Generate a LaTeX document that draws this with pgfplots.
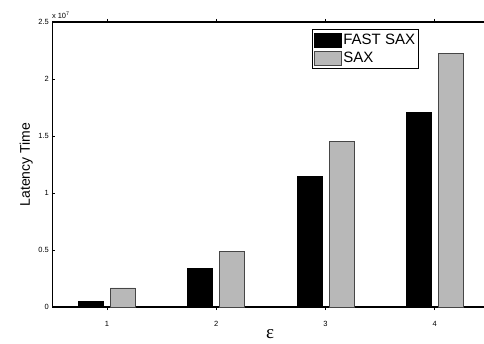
\documentclass[border=0pt]{standalone}
\usepackage{pgfplots}
\pgfplotsset{compat=1.18}
\usepackage{fontspec}
\setmainfont{Liberation Sans}
\newfontfamily\seriffont{Liberation Serif}
\definecolor{barGray}{RGB}{184,184,184}
\definecolor{edgeGray}{RGB}{70,70,70}
\begin{document}
\begin{tikzpicture}
\begin{axis}[
  scale only axis, width=431.7pt, height=285pt,
  xmin=0.5, xmax=4.45, ymin=0, ymax=2.5,
  axis x line=box, axis y line=left,
  axis line style={-, line width=1.2pt},
  xtick={1,2,3,4}, ytick={0,0.5,1,1.5,2,2.5},
  yticklabels={0,0.5,1,1.5,2,2.5},
  scaled y ticks=false,
  tick align=inside, major tick length=3pt,
  tick style={black, line width=0.8pt},
  ticklabel style={font=\fontsize{7.5}{9}\selectfont},
  xticklabel style={yshift=-8pt},
  /pgf/number format/assume math mode=true,
  ybar, bar width=25pt,
  clip=false,
  legend style={at={(rel axis cs:0.601,0.975)}, anchor=north west, draw=black, line width=1pt, fill=white,
    font=\fontsize{15}{17}\selectfont, inner xsep=2pt, inner ysep=2.5pt, row sep=2pt, legend cell align=left,
    nodes={inner xsep=1.5pt}},
  legend image code/.code={\draw[#1, line width=0.6pt] (0pt,-7pt) rectangle (27pt,7pt);},
]
\addplot[fill=black, draw=black, line width=0.6pt, bar shift=-16pt] coordinates {(1,0.046) (2,0.342) (3,1.149) (4,1.704)};
\addplot[fill=barGray, draw=edgeGray, line width=0.8pt, bar shift=16pt] coordinates {(1,0.167) (2,0.485) (3,1.453) (4,2.225)};
\legend{FAST SAX, SAX}
\end{axis}
\node[rotate=90, font=\fontsize{14}{16}\selectfont] at ([xshift=-26pt]current axis.west) {Latency Time};
\node[font=\seriffont\fontsize{19}{20}\selectfont] at ([xshift=2pt,yshift=-27pt]current axis.south) {ε};
\node[anchor=south west, inner sep=0pt, font=\fontsize{7.5}{9}\selectfont] at ([xshift=-0.5pt,yshift=3pt]current axis.north west) {x 10\textsuperscript{7}};
\pgfresetboundingbox
\path ([xshift=-52.3pt,yshift=-36pt]current axis.south west) rectangle ([yshift=22pt]current axis.north east);
\end{tikzpicture}
\end{document}
